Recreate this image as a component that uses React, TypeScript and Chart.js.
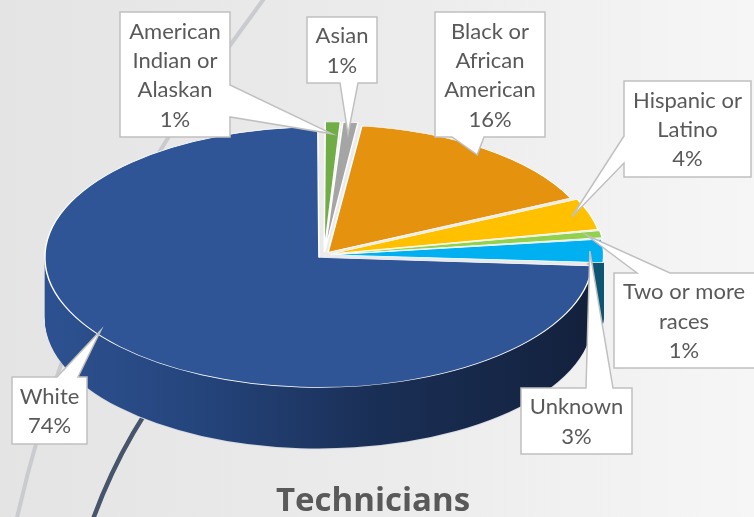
import React, { useEffect, useRef } from 'react';
import { Chart, registerables } from 'chart.js';

Chart.register(...registerables);

// ---------- data ----------
const categories = [
  'American Indian or Alaskan',
  'Asian',
  'Black or African American',
  'Hispanic or Latino',
  'Two or more races',
  'Unknown',
  'White',
];
const shares = [1, 1, 16, 4, 1, 3, 74];
const percentLabels = ['1%', '1%', '16%', '4%', '1%', '3%', '74%'];
const labelLines = [
  ['American', 'Indian or', 'Alaskan'],
  ['Asian'],
  ['Black or', 'African', 'American'],
  ['Hispanic or', 'Latino'],
  ['Two or more', 'races'],
  ['Unknown'],
  ['White'],
];
const chartTitle = 'Technicians';
const sliceColors = ['#70AD47', '#A5A5A5', '#E5920F', '#FFC000', '#92D050', '#00B0F0', '#2F5597'];

// ---------- layout / style ----------
const RX = 267;
const K = 0.475;
const DEPTH = 62;
const FONT = 'Lato, "Open Sans", "DejaVu Sans", sans-serif';

type Side = 'top' | 'right' | 'bottom' | 'left';
const callouts: { x: number; y: number; w: number; h: number; side: Side; a: number; b: number; frac: number; rf: number }[] = [
  { x: 120, y: 12, w: 110, h: 125, side: 'right', a: 85, b: 117, frac: 0.5, rf: 0.93 },
  { x: 307, y: 17, w: 70, h: 66, side: 'bottom', a: 340, b: 358, frac: 0.5, rf: 0.93 },
  { x: 435, y: 12, w: 110, h: 125, side: 'bottom', a: 452, b: 484, frac: 0.5, rf: 0.95 },
  { x: 624, y: 81, w: 127, h: 96, side: 'left', a: 136, b: 163, frac: 0.5, rf: 0.95 },
  { x: 614, y: 273, w: 145, h: 95, side: 'top', a: 637, b: 670, frac: 0.5, rf: 0.97 },
  { x: 521, y: 388, w: 111, h: 66, side: 'top', a: 586, b: 613, frac: 0.5, rf: 0.97 },
  { x: 12, y: 377, w: 75, h: 67, side: 'top', a: 57, b: 78, frac: 0.53, rf: 1.0 },
];

function drawCallout(ctx: CanvasRenderingContext2D, c: typeof callouts[number], tx: number, ty: number) {
  const { x, y, w, h, side, a, b } = c;
  ctx.beginPath();
  ctx.moveTo(x, y);
  if (side === 'top') { ctx.lineTo(a, y); ctx.lineTo(tx, ty); ctx.lineTo(b, y); }
  ctx.lineTo(x + w, y);
  if (side === 'right') { ctx.lineTo(x + w, a); ctx.lineTo(tx, ty); ctx.lineTo(x + w, b); }
  ctx.lineTo(x + w, y + h);
  if (side === 'bottom') { ctx.lineTo(b, y + h); ctx.lineTo(tx, ty); ctx.lineTo(a, y + h); }
  ctx.lineTo(x, y + h);
  if (side === 'left') { ctx.lineTo(x, b); ctx.lineTo(tx, ty); ctx.lineTo(x, a); }
  ctx.closePath();
  ctx.fillStyle = '#ffffff';
  ctx.fill();
  ctx.lineWidth = 1.5;
  ctx.strokeStyle = '#c0c0c0';
  ctx.lineJoin = 'miter';
  ctx.stroke();
}

const backgroundPlugin = {
  id: 'bgDecor',
  beforeDraw(chart: any) {
    const ctx: CanvasRenderingContext2D = chart.ctx;
    const W = chart.width, H = chart.height;
    ctx.save();
    const g = ctx.createLinearGradient(0, 0, W, 0);
    g.addColorStop(0, '#e4e4e4');
    g.addColorStop(0.55, '#ececec');
    g.addColorStop(1, '#f6f6f6');
    ctx.fillStyle = g;
    ctx.fillRect(0, 0, W, H);
    // decorative swooshes
    ctx.lineCap = 'round';
    ctx.strokeStyle = '#c9cbce';
    ctx.lineWidth = 4;
    ctx.beginPath();
    ctx.moveTo(266, -4);
    ctx.bezierCurveTo(190, 100, 80, 240, 16, 522);
    ctx.stroke();
    ctx.strokeStyle = '#46556b';
    ctx.lineWidth = 4.5;
    ctx.beginPath();
    ctx.moveTo(185, 360);
    ctx.quadraticCurveTo(125, 430, 92, 522);
    ctx.stroke();
    ctx.restore();
  },
};

const pie3dPlugin = {
  id: 'pie3d',
  beforeDatasetsDraw(chart: any) {
    const ctx: CanvasRenderingContext2D = chart.ctx;
    const arcs = chart.getDatasetMeta(0).data;
    const cx = arcs[0].x, cy = arcs[0].y;
    const whiteSide = ctx.createLinearGradient(cx - RX, 0, cx + RX, 0);
    whiteSide.addColorStop(0, '#2d5190');
    whiteSide.addColorStop(0.3, '#24437a');
    whiteSide.addColorStop(0.6, '#1a2f56');
    whiteSide.addColorStop(1, '#13213d');
    const blueSide = ctx.createLinearGradient(cx + RX - 12, 0, cx + RX - 4, 0);
    blueSide.addColorStop(0, '#e9e9e9');
    blueSide.addColorStop(1, '#0c5674');
    const sideFill = (i: number) => (i === 6 ? whiteSide : i === 5 ? blueSide : '#ececec');
    for (let d = DEPTH; d >= 1; d--) {
      ctx.save();
      ctx.translate(cx, cy + d);
      ctx.scale(1, K);
      ctx.translate(-cx, -cy);
      arcs.forEach((arc: any, i: number) => {
        const orig = arc.options;
        arc.options = { ...orig, backgroundColor: d === DEPTH ? '#d5d9e0' : sideFill(i), borderWidth: 0 };
        arc.draw(ctx);
        arc.options = orig;
      });
      ctx.restore();
    }
    ctx.save();
    ctx.translate(cx, cy);
    ctx.scale(1, K);
    ctx.translate(-cx, -cy);
  },
  afterDatasetsDraw(chart: any) {
    chart.ctx.restore();
  },
  afterDraw(chart: any) {
    const ctx: CanvasRenderingContext2D = chart.ctx;
    const arcs = chart.getDatasetMeta(0).data;
    const cx = arcs[0].x, cy = arcs[0].y;
    ctx.save();
    callouts.forEach((c, i) => {
      const arc = arcs[i];
      const p = arc.getProps(['startAngle', 'endAngle', 'outerRadius'], true);
      const ang = p.startAngle + (p.endAngle - p.startAngle) * c.frac;
      const mid = (p.startAngle + p.endAngle) / 2;
      const off = (arc.options.offset || 0) / 4;
      const r = p.outerRadius * c.rf;
      const ux = cx + Math.cos(mid) * off + Math.cos(ang) * r;
      const uy = cy + Math.sin(mid) * off + Math.sin(ang) * r;
      const tx = ux;
      const ty = cy + (uy - cy) * K;
      drawCallout(ctx, c, tx, ty);
      const lines = [...labelLines[i], percentLabels[i]];
      const lh = 29.3;
      ctx.fillStyle = '#595959';
      ctx.font = `22px ${FONT}`;
      ctx.textAlign = 'center';
      ctx.textBaseline = 'middle';
      const startY = c.y + c.h / 2 - ((lines.length - 1) * lh) / 2 + 1;
      const centerX = c.x + Math.min(c.w, 754 - c.x) / 2;
      lines.forEach((t, j) => ctx.fillText(t, centerX, startY + j * lh));
    });
    ctx.fillStyle = '#595959';
    ctx.font = 'bold 33px "Open Sans", Lato, sans-serif';
    ctx.textAlign = 'center';
    ctx.textBaseline = 'alphabetic';
    ctx.fillText(chartTitle, 373, 511);
    ctx.restore();
  },
};

export default function App() {
  const ref = useRef<HTMLCanvasElement | null>(null);
  useEffect(() => {
    if (!ref.current) return;
    const chart = new Chart(ref.current, {
      type: 'pie',
      data: {
        labels: categories,
        datasets: [
          {
            data: shares,
            backgroundColor: sliceColors,
            borderColor: '#ffffff',
            borderWidth: 1.5,
            offset: 28,
            radius: RX,
            clip: false,
          } as any,
        ],
      },
      options: {
        responsive: false,
        animation: false,
        events: [],
        layout: { padding: { left: 0, right: 106, top: 0, bottom: 7 } },
        plugins: {
          legend: { display: false },
          tooltip: { enabled: false },
          title: { display: false },
        },
      } as any,
      plugins: [backgroundPlugin, pie3dPlugin],
    });
    return () => chart.destroy();
  }, []);
  return (
    <div style={{ position: 'fixed', left: 0, top: 0, width: 754, height: 517 }}>
      <canvas ref={ref} width={754} height={517} style={{ display: 'block' }} />
    </div>
  );
}
